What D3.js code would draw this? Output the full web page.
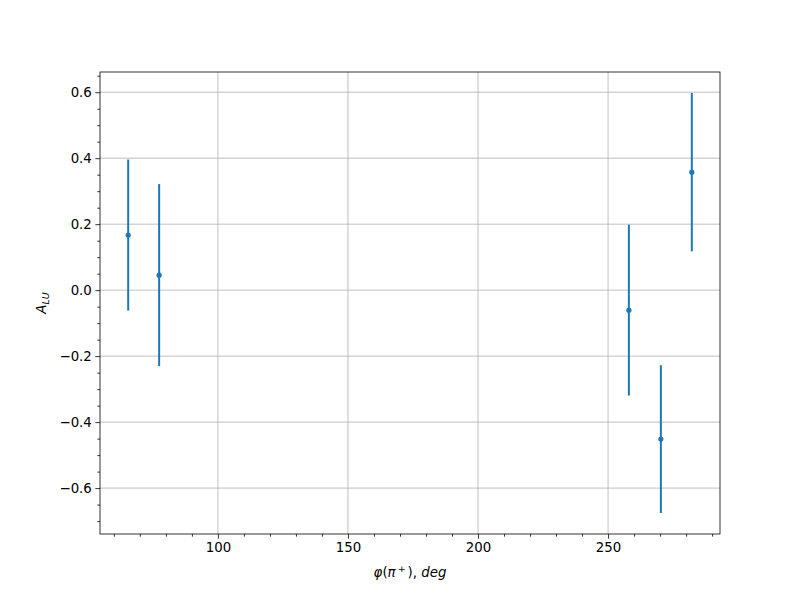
<!DOCTYPE html>
<html><head><meta charset="utf-8">
<script src="https://cdn.jsdelivr.net/npm/d3@7"></script>
<style>
body{margin:0;background:#fff;}
text{font-family:"DejaVu Sans",sans-serif;}
</style></head>
<body><svg id="c" width="800" height="600"></svg>
<script>
const phi = [65.5, 77.4, 258.0, 270.3, 282.2];
const alu = [0.167, 0.0455, -0.0606, -0.4515, 0.3576];
const err = [0.229, 0.276, 0.259, 0.224, 0.240];
const xTicks = [100, 150, 200, 250];
const yTicks = [-0.6, -0.4, -0.2, 0.0, 0.2, 0.4, 0.6];

const svg = d3.select("#c");
const L = 100, R = 720, T = 72, B = 534;

const xmin = d3.min(phi), xmax = d3.max(phi);
const xpad = (xmax - xmin) * 0.05;
const lo = d3.min(alu.map((v, i) => v - err[i])), hi = d3.max(alu.map((v, i) => v + err[i]));
const ypad = (hi - lo) * 0.05;
const x = d3.scaleLinear().domain([xmin - xpad, xmax + xpad]).range([L, R]);
const y = d3.scaleLinear().domain([lo - ypad, hi + ypad]).range([B, T]);

// grid
const g = svg.append("g");
g.selectAll(".gx").data(xTicks).enter().append("line")
  .attr("x1", d => x(d)).attr("x2", d => x(d)).attr("y1", T).attr("y2", B)
  .attr("stroke", "#b0b0b0").attr("stroke-width", 0.8);
g.selectAll(".gy").data(yTicks).enter().append("line")
  .attr("y1", d => y(d)).attr("y2", d => y(d)).attr("x1", L).attr("x2", R)
  .attr("stroke", "#b0b0b0").attr("stroke-width", 0.8);

// axes
const fmtY = d => d3.format(".1f")(d).replace("-", "−");
const xAxis = d3.axisBottom(x).tickValues(xTicks).tickSize(4.67).tickPadding(3.5).tickFormat(d3.format("d"));
const xMinor = d3.axisBottom(x).tickValues(d3.range(60, 291, 10).filter(v => v % 50 !== 0)).tickSize(2.67).tickFormat("");
const yAxis = d3.axisLeft(y).tickValues(yTicks).tickSize(4.67).tickPadding(3.5).tickFormat(fmtY);
const yMinor = d3.axisLeft(y).tickValues(d3.range(-0.7, 0.66, 0.05).map(v => +v.toFixed(2)).filter(v => Math.abs(Math.round(v * 10) - v * 10) > 0.01 || Math.round(v*10) % 2 !== 0)).tickSize(2.67).tickFormat("");

function style(sel) {
  sel.select(".domain").remove();
  sel.selectAll("line").attr("stroke", "#000").attr("stroke-width", 0.8);
  sel.selectAll("text").attr("font-size", "13.33px").attr("fill", "#000").attr("font-family", "DejaVu Sans");
}
svg.append("g").attr("transform", `translate(0,${B})`).call(xAxis).call(style);
svg.append("g").attr("transform", `translate(0,${B})`).call(xMinor).call(style);
svg.append("g").attr("transform", `translate(${L},0)`).call(yAxis).call(style);
svg.append("g").attr("transform", `translate(${L},0)`).call(yMinor).call(style);

// error bars
const col = "#1f77b4";
svg.append("g").selectAll("line").data(phi).enter().append("line")
  .attr("x1", (d) => x(d)).attr("x2", d => x(d))
  .attr("y1", (d, i) => y(alu[i] - err[i])).attr("y2", (d, i) => y(alu[i] + err[i]))
  .attr("stroke", col).attr("stroke-width", 2);
svg.append("g").selectAll("circle").data(phi).enter().append("circle")
  .attr("cx", d => x(d)).attr("cy", (d, i) => y(alu[i])).attr("r", 2.6).attr("fill", col);

// frame
svg.append("rect").attr("x", L).attr("y", T).attr("width", R - L).attr("height", B - T)
  .attr("fill", "none").attr("stroke", "#000").attr("stroke-width", 0.8);

// x label
const xl = svg.append("text").attr("x", (L + R) / 2).attr("y", 577).attr("text-anchor", "middle")
  .attr("font-size", "13.33px").attr("fill", "#000");
xl.append("tspan").attr("font-style", "italic").text("φ");
xl.append("tspan").text("(");
xl.append("tspan").attr("font-style", "italic").text("π");
xl.append("tspan").attr("font-size", "9.5px").attr("dx", 2).attr("dy", -5).text("+");
xl.append("tspan").attr("dx", 2).attr("dy", 5).text(")");
xl.append("tspan").text(", ");
xl.append("tspan").attr("font-style", "italic").text("deg");

// y label
const yl = svg.append("text").attr("transform", `translate(46,${(T + B) / 2}) rotate(-90)`)
  .attr("text-anchor", "middle").attr("font-size", "13.33px").attr("fill", "#000");
yl.append("tspan").attr("font-style", "italic").text("A");
yl.append("tspan").attr("font-style", "italic").attr("font-size", "9.5px").attr("dy", 3).text("LU");
</script></body></html>
